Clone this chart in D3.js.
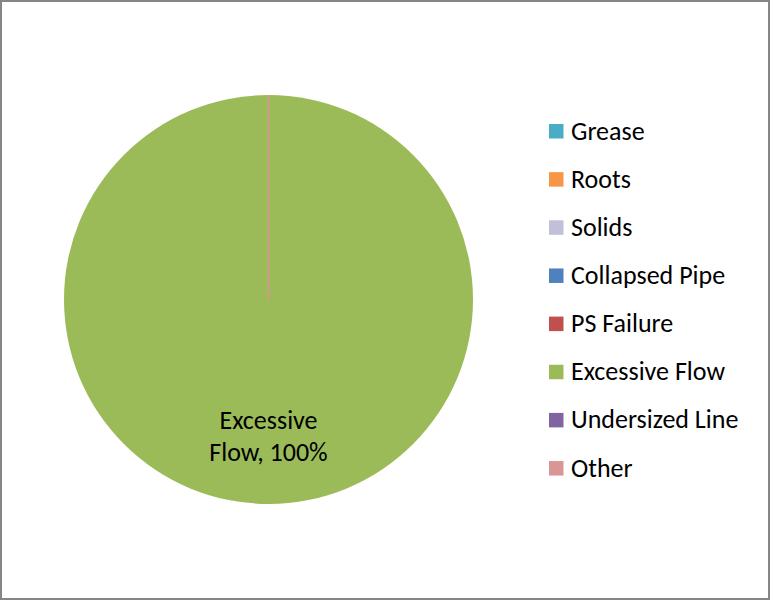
<!DOCTYPE html>
<html><head><meta charset="utf-8">
<script src="https://cdn.jsdelivr.net/npm/d3@7"></script>
<style>body{margin:0;background:#fff}svg{display:block}</style>
</head><body>
<script>
const categories = ["Grease","Roots","Solids","Collapsed Pipe","PS Failure","Excessive Flow","Undersized Line","Other"];
const values = [0,0,0,0,0,100,0,0];
const colors = ["#4bacc6","#f79646","#c0c0da","#4f81bd","#c0504d","#9bbb59","#8064a2","#d99694"];
const W=770,H=600;
const svg=d3.select("body").append("svg").attr("width",W).attr("height",H);
svg.append("rect").attr("x",1).attr("y",1).attr("width",W-2).attr("height",H-2)
  .attr("fill","#fff").attr("stroke","#868686").attr("stroke-width",2);
const font="Carlito, Lato, sans-serif";
const fs=26;
const data=categories.map((c,i)=>({c,v:values[i],col:colors[i]}));
const pie=d3.pie().value(d=>d.v).sort(null);
const arcs=pie(data);
const r=204.5;
const arc=d3.arc().innerRadius(0).outerRadius(r);
const g=svg.append("g").attr("transform","translate(268.5,299.5)");
g.selectAll("path.s").data(arcs.filter(a=>a.data.v>0)).join("path").attr("class","s")
  .attr("d",arc).attr("fill",d=>d.data.col);
g.selectAll("path.z").data(arcs.filter(a=>a.data.v===0 && a.data.c==="Other")).join("path").attr("class","z")
  .attr("d",arc).attr("fill","none").attr("stroke",d=>d.data.col).attr("stroke-width",1.6);
const total=d3.sum(values);
arcs.filter(a=>a.data.v>0).forEach(a=>{
  const t=g.append("text").attr("text-anchor","middle").attr("font-family",font).attr("font-size",fs).attr("fill","#000");
  t.append("tspan").attr("x",0).attr("y",129.5).text("Excessive");
  t.append("tspan").attr("x",0).attr("y",161.5).text("Flow, "+Math.round(a.data.v/total*100)+"%");
});
const lg=svg.append("g");
const y0=131, dy=48.15;
data.forEach((d,i)=>{
  const y=y0+i*dy;
  lg.append("rect").attr("x",549).attr("y",y-7).attr("width",14.5).attr("height",14.5).attr("fill",d.col);
  lg.append("text").attr("x",571).attr("y",y+8.5).attr("font-family",font).attr("font-size",fs).attr("fill","#000").text(d.c);
});
</script>
</body></html>
